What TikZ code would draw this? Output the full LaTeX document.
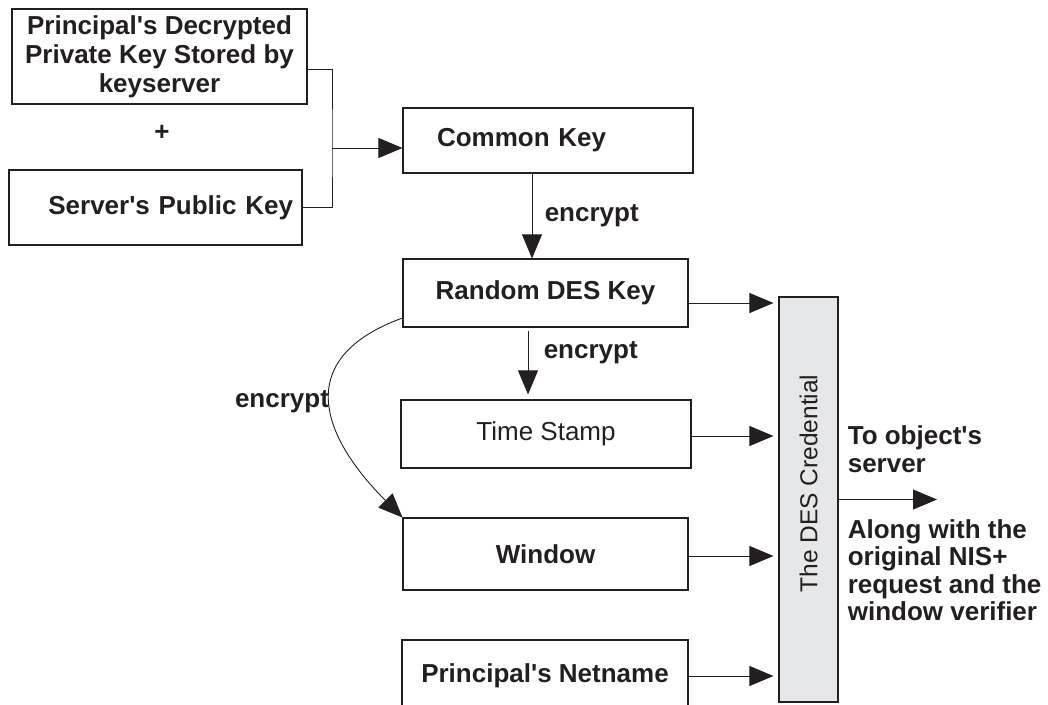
\documentclass[tikz,border=0pt]{standalone}
\usepackage{fontspec}
\setmainfont{Liberation Sans}
\usepackage{graphicx}
\usetikzlibrary{arrows.meta}
\definecolor{ink}{RGB}{35,31,32}
\definecolor{credgray}{RGB}{230,231,232}
\begin{document}
\begin{tikzpicture}[x=1pt, y=-1pt,
    box/.style={draw=ink, line width=1.1pt, inner sep=0pt, text=ink, font=\fontsize{26}{29}\selectfont\bfseries},
    lbl/.style={text=ink, font=\fontsize{26}{27.5}\selectfont\bfseries, align=left},
    arr/.style={draw=ink, line width=0.9pt, -{Triangle[length=24pt,width=20pt]}}]
    \path[use as bounding box, clip] (0,0) rectangle (1048,704);
    % keys
    \node[box, minimum width=295pt, minimum height=95pt, align=center] (prv) at (159.5,56.5) {Principal\textquotesingle s Decrypted\\Private Key Stored by\\keyserver};
    \node[lbl] (plus) at (162,133) {+};
    \node[box, minimum height=75pt, text width=275pt, inner xsep=9pt, align=right] (pub) at (155.5,207.5) {Server\textquotesingle s Public Key};
    \node[box, minimum height=65pt, text width=222pt, inner xsep=34pt, align=left] (ck) at (548,140.5) {Common Key};
    \coordinate (jn) at (332,148);
    \draw[ink, line width=0.9pt] ([yshift=-12.5pt]prv.east) -| (jn) |- (pub.east);
    \draw[arr] (jn) -- (jn -| ck.west);
    % encryption chain
    \node[box, minimum width=285pt, minimum height=68pt] (rdk) at (545.5,293) {Random DES Key};
    \node[box, minimum width=290pt, minimum height=68pt, font=\fontsize{26}{29}\selectfont] (ts) at (546,434) {Time Stamp};
    \node[box, minimum width=285pt, minimum height=72pt] (win) at (545.5,554) {Window};
    \node[box, minimum width=286pt, minimum height=72pt] (net) at (545,676) {Principal\textquotesingle s Netname};
    \draw[arr] ([xshift=-16pt]ck.south) -- ([xshift=-16pt]ck.south |- rdk.north) node[midway, right=9pt, lbl] (enc1) {encrypt};
    \draw[arr, shorten <=3pt, shorten >=5pt] ([xshift=-17.5pt]rdk.south) -- ([xshift=-17.5pt]rdk.south |- ts.north) node[pos=0.35, right=12pt, lbl] (enc2) {encrypt};
    \draw[arr] ([yshift=-25pt]rdk.west) to[out=200, in=135, looseness=1.5] node[midway, left, lbl, inner sep=1pt] (enc3) {encrypt} (win.north west);
    % credential
    \node[draw=ink, line width=1.1pt, fill=credgray, minimum width=59pt, minimum height=405pt, inner sep=0pt, text=ink, font=\fontsize{24.5}{28}\selectfont] (cred) at (808.5,499.5) {\rotatebox{90}{\hspace*{32pt}The DES Credential}};
    \draw[arr, shorten >=5pt] ([yshift=-10pt]rdk.east) -- ([yshift=-10pt]rdk.east -| cred.west);
    \draw[arr, shorten >=5pt] ([yshift=-2pt]ts.east) -- ([yshift=-2pt]ts.east -| cred.west);
    \draw[arr, shorten >=5pt] ([yshift=-2pt]win.east) -- ([yshift=-2pt]win.east -| cred.west);
    \draw[arr, shorten >=5pt] (net.east) -- (net.east -| cred.west);
    % out to the server
    \coordinate (srv) at (937,499.5);
    \draw[arr] (cred.east) -- (srv);
    \node[lbl, anchor=north west] (tos) at ([xshift=5.7pt, yshift=77pt]cred.east) {To object\textquotesingle s\\server};
    \node[lbl, anchor=north west] (along) at ([xshift=5.7pt, yshift=-16.5pt]cred.east) {Along with the\\original NIS+\\request and the\\window verifier};
\end{tikzpicture}
\end{document}
